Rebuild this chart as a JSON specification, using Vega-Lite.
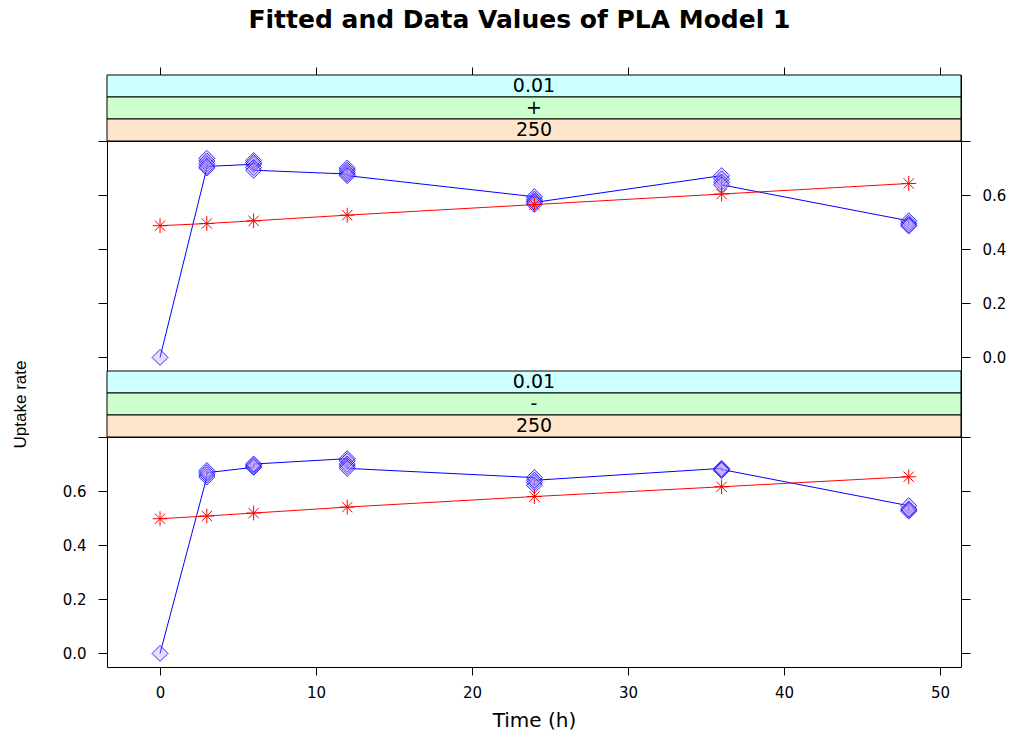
{
  "$schema": "https://vega.github.io/schema/vega-lite/v6.json",
  "padding": {"left": 10, "top": 8, "right": 5, "bottom": 5},
  "title": {
    "text": "Fitted and Data Values of PLA Model 1",
    "font": "DejaVu Sans",
    "fontSize": 25,
    "fontWeight": "bold",
    "color": "black",
    "anchor": "middle",
    "dx": 11,
    "offset": 33
  },
  "datasets": {
    "strips": [
      {"panel": "+", "factor": "conc", "label": "0.01"},
      {"panel": "+", "factor": "sign", "label": "+"},
      {"panel": "+", "factor": "dose", "label": "250"},
      {"panel": "-", "factor": "conc", "label": "0.01"},
      {"panel": "-", "factor": "sign", "label": "-"},
      {"panel": "-", "factor": "dose", "label": "250"}
    ],
    "uptake": [
      {"panel": "+", "kind": "obs", "seq": 1, "time": 0, "uptake": 0.0},
      {"panel": "+", "kind": "obs", "seq": 2, "time": 3, "uptake": 0.700},
      {"panel": "+", "kind": "obs", "seq": 3, "time": 3, "uptake": 0.736},
      {"panel": "+", "kind": "obs", "seq": 4, "time": 3, "uptake": 0.726},
      {"panel": "+", "kind": "obs", "seq": 5, "time": 3, "uptake": 0.716},
      {"panel": "+", "kind": "obs", "seq": 6, "time": 3, "uptake": 0.706},
      {"panel": "+", "kind": "obs", "seq": 7, "time": 6, "uptake": 0.714},
      {"panel": "+", "kind": "obs", "seq": 8, "time": 6, "uptake": 0.728},
      {"panel": "+", "kind": "obs", "seq": 9, "time": 6, "uptake": 0.720},
      {"panel": "+", "kind": "obs", "seq": 10, "time": 6, "uptake": 0.702},
      {"panel": "+", "kind": "obs", "seq": 11, "time": 6, "uptake": 0.692},
      {"panel": "+", "kind": "obs", "seq": 12, "time": 12, "uptake": 0.678},
      {"panel": "+", "kind": "obs", "seq": 13, "time": 12, "uptake": 0.700},
      {"panel": "+", "kind": "obs", "seq": 14, "time": 12, "uptake": 0.692},
      {"panel": "+", "kind": "obs", "seq": 15, "time": 12, "uptake": 0.684},
      {"panel": "+", "kind": "obs", "seq": 16, "time": 12, "uptake": 0.672},
      {"panel": "+", "kind": "obs", "seq": 17, "time": 24, "uptake": 0.594},
      {"panel": "+", "kind": "obs", "seq": 18, "time": 24, "uptake": 0.585},
      {"panel": "+", "kind": "obs", "seq": 19, "time": 24, "uptake": 0.578},
      {"panel": "+", "kind": "obs", "seq": 20, "time": 24, "uptake": 0.566},
      {"panel": "+", "kind": "obs", "seq": 21, "time": 24, "uptake": 0.573},
      {"panel": "+", "kind": "obs", "seq": 22, "time": 36, "uptake": 0.672},
      {"panel": "+", "kind": "obs", "seq": 23, "time": 36, "uptake": 0.660},
      {"panel": "+", "kind": "obs", "seq": 24, "time": 36, "uptake": 0.648},
      {"panel": "+", "kind": "obs", "seq": 25, "time": 36, "uptake": 0.638},
      {"panel": "+", "kind": "obs", "seq": 26, "time": 48, "uptake": 0.505},
      {"panel": "+", "kind": "obs", "seq": 27, "time": 48, "uptake": 0.496},
      {"panel": "+", "kind": "obs", "seq": 28, "time": 48, "uptake": 0.490},
      {"panel": "+", "kind": "obs", "seq": 29, "time": 48, "uptake": 0.486},
      {"panel": "+", "kind": "fit", "seq": 1, "time": 0, "uptake": 0.487},
      {"panel": "+", "kind": "fit", "seq": 2, "time": 3, "uptake": 0.495},
      {"panel": "+", "kind": "fit", "seq": 3, "time": 6, "uptake": 0.505},
      {"panel": "+", "kind": "fit", "seq": 4, "time": 12, "uptake": 0.526},
      {"panel": "+", "kind": "fit", "seq": 5, "time": 24, "uptake": 0.565},
      {"panel": "+", "kind": "fit", "seq": 6, "time": 36, "uptake": 0.604},
      {"panel": "+", "kind": "fit", "seq": 7, "time": 48, "uptake": 0.643},
      {"panel": "-", "kind": "obs", "seq": 1, "time": 0, "uptake": 0.0},
      {"panel": "-", "kind": "obs", "seq": 2, "time": 3, "uptake": 0.652},
      {"panel": "-", "kind": "obs", "seq": 3, "time": 3, "uptake": 0.676},
      {"panel": "-", "kind": "obs", "seq": 4, "time": 3, "uptake": 0.660},
      {"panel": "-", "kind": "obs", "seq": 5, "time": 3, "uptake": 0.668},
      {"panel": "-", "kind": "obs", "seq": 6, "time": 6, "uptake": 0.688},
      {"panel": "-", "kind": "obs", "seq": 7, "time": 6, "uptake": 0.696},
      {"panel": "-", "kind": "obs", "seq": 8, "time": 6, "uptake": 0.690},
      {"panel": "-", "kind": "obs", "seq": 9, "time": 6, "uptake": 0.700},
      {"panel": "-", "kind": "obs", "seq": 10, "time": 12, "uptake": 0.720},
      {"panel": "-", "kind": "obs", "seq": 11, "time": 12, "uptake": 0.712},
      {"panel": "-", "kind": "obs", "seq": 12, "time": 12, "uptake": 0.700},
      {"panel": "-", "kind": "obs", "seq": 13, "time": 12, "uptake": 0.692},
      {"panel": "-", "kind": "obs", "seq": 14, "time": 12, "uptake": 0.684},
      {"panel": "-", "kind": "obs", "seq": 15, "time": 24, "uptake": 0.650},
      {"panel": "-", "kind": "obs", "seq": 16, "time": 24, "uptake": 0.632},
      {"panel": "-", "kind": "obs", "seq": 17, "time": 24, "uptake": 0.622},
      {"panel": "-", "kind": "obs", "seq": 18, "time": 24, "uptake": 0.640},
      {"panel": "-", "kind": "obs", "seq": 19, "time": 36, "uptake": 0.684},
      {"panel": "-", "kind": "obs", "seq": 20, "time": 36, "uptake": 0.676},
      {"panel": "-", "kind": "obs", "seq": 21, "time": 36, "uptake": 0.680},
      {"panel": "-", "kind": "obs", "seq": 22, "time": 48, "uptake": 0.546},
      {"panel": "-", "kind": "obs", "seq": 23, "time": 48, "uptake": 0.530},
      {"panel": "-", "kind": "obs", "seq": 24, "time": 48, "uptake": 0.526},
      {"panel": "-", "kind": "obs", "seq": 25, "time": 48, "uptake": 0.534},
      {"panel": "-", "kind": "fit", "seq": 1, "time": 0, "uptake": 0.498},
      {"panel": "-", "kind": "fit", "seq": 2, "time": 3, "uptake": 0.508},
      {"panel": "-", "kind": "fit", "seq": 3, "time": 6, "uptake": 0.519},
      {"panel": "-", "kind": "fit", "seq": 4, "time": 12, "uptake": 0.541},
      {"panel": "-", "kind": "fit", "seq": 5, "time": 24, "uptake": 0.580},
      {"panel": "-", "kind": "fit", "seq": 6, "time": 36, "uptake": 0.616},
      {"panel": "-", "kind": "fit", "seq": 7, "time": 48, "uptake": 0.653}
    ]
  },
  "spacing": 0,
  "bounds": "flush",
  "resolve": {"scale": {"x": "independent", "y": "independent", "color": "independent"}},
  "vconcat": [
    {
      "width": 854,
      "height": 66,
      "data": {"name": "strips"},
      "transform": [{"filter": "datum.panel === '+'"}],
      "encoding": {
        "y": {"field": "factor", "type": "nominal", "sort": ["conc", "sign", "dose"], "axis": null,
              "scale": {"paddingInner": 0, "paddingOuter": 0}}
      },
      "layer": [
        {
          "mark": {"type": "rect", "stroke": "black", "strokeWidth": 1},
          "encoding": {
            "x": {"datum": -3.4, "type": "quantitative",
                  "scale": {"domain": [-3.4, 51.35], "nice": false, "zero": false},
                  "axis": {"orient": "top", "values": [0, 10, 20, 30, 40, 50], "labels": false,
                           "ticks": true, "tickSize": 8, "domain": false, "grid": false, "title": null}},
            "x2": {"datum": 51.35},
            "color": {"field": "factor", "type": "nominal",
                      "scale": {"domain": ["conc", "sign", "dose"], "range": ["#CCFFFF", "#CCFFCC", "#FFE5CC"]},
                      "legend": null}
          }
        },
        {
          "mark": {"type": "text", "font": "DejaVu Sans", "fontSize": 19, "color": "black", "baseline": "middle"},
          "encoding": {
            "x": {"datum": 23.975, "type": "quantitative"},
            "text": {"field": "label"}
          }
        }
      ]
    },
    {
      "width": 854,
      "height": 230,
      "data": {"name": "uptake"},
      "transform": [{"filter": "datum.panel === '+'"}],
      "encoding": {
        "x": {"field": "time", "type": "quantitative",
              "scale": {"domain": [-3.4, 51.35], "nice": false, "zero": false}, "axis": null}
      },
      "layer": [
        {
          "transform": [{"filter": "datum.kind === 'obs'"}],
          "mark": {"type": "line", "color": "#0000FF", "strokeWidth": 1},
          "encoding": {
            "y": {"field": "uptake", "type": "quantitative",
                  "scale": {"domain": [-0.05, 0.8], "nice": false, "zero": false},
                  "axis": {"orient": "left", "values": [0, 0.2, 0.4, 0.6, 0.8], "labels": false,
                           "tickSize": 9, "domain": false, "grid": false, "title": null}},
            "order": {"field": "seq", "type": "quantitative"}
          }
        },
        {
          "transform": [{"filter": "datum.kind === 'obs'"}],
          "mark": {"type": "point", "shape": "diamond", "size": 256, "filled": true,
                   "fill": "#B38CFF", "fillOpacity": 0.3, "stroke": "#0000FF", "strokeOpacity": 0.8, "strokeWidth": 1},
          "encoding": {
            "y": {"field": "uptake", "type": "quantitative", "axis": null}
          }
        },
        {
          "transform": [{"filter": "datum.kind === 'fit'"}],
          "mark": {"type": "line", "color": "#FF0000", "strokeWidth": 1},
          "encoding": {
            "y": {"field": "uptake", "type": "quantitative",
                  "axis": {"orient": "right", "values": [0, 0.2, 0.4, 0.6, 0.8],
                           "labelExpr": "datum.value > 0.7 ? '' : format(datum.value, '.1f')",
                           "tickSize": 9, "labelPadding": 12, "domain": false, "grid": false, "title": null}}
          }
        },
        {
          "transform": [{"filter": "datum.kind === 'fit'"}],
          "mark": {"type": "point", "shape": "M-1,0L1,0M0,-1L0,1M-0.7,-0.7L0.7,0.7M-0.7,0.7L0.7,-0.7",
                   "size": 220, "filled": false, "stroke": "#FF0000", "strokeWidth": 1, "opacity": 1},
          "encoding": {
            "y": {"field": "uptake", "type": "quantitative", "axis": null}
          }
        }
      ],
      "resolve": {"axis": {"y": "independent"}}
    },
    {
      "width": 854,
      "height": 66,
      "data": {"name": "strips"},
      "transform": [{"filter": "datum.panel === '-'"}],
      "encoding": {
        "y": {"field": "factor", "type": "nominal", "sort": ["conc", "sign", "dose"], "axis": null,
              "scale": {"paddingInner": 0, "paddingOuter": 0}}
      },
      "layer": [
        {
          "mark": {"type": "rect", "stroke": "black", "strokeWidth": 1},
          "encoding": {
            "x": {"datum": -3.4, "type": "quantitative",
                  "scale": {"domain": [-3.4, 51.35], "nice": false, "zero": false}, "axis": null},
            "x2": {"datum": 51.35},
            "color": {"field": "factor", "type": "nominal",
                      "scale": {"domain": ["conc", "sign", "dose"], "range": ["#CCFFFF", "#CCFFCC", "#FFE5CC"]},
                      "legend": null}
          }
        },
        {
          "mark": {"type": "text", "font": "DejaVu Sans", "fontSize": 19, "color": "black", "baseline": "middle"},
          "encoding": {
            "x": {"datum": 23.975, "type": "quantitative"},
            "text": {"field": "label"}
          }
        }
      ]
    },
    {
      "width": 854,
      "height": 230,
      "data": {"name": "uptake"},
      "transform": [{"filter": "datum.panel === '-'"}],
      "encoding": {
        "x": {"field": "time", "type": "quantitative",
              "scale": {"domain": [-3.4, 51.35], "nice": false, "zero": false},
              "axis": {"orient": "bottom", "values": [0, 10, 20, 30, 40, 50], "tickSize": 8,
                       "labelPadding": 10, "domain": false, "grid": false,
                       "title": "Time (h)", "titleFont": "DejaVu Sans", "titleFontSize": 20,
                       "titleFontWeight": "normal", "titleColor": "black", "titlePadding": 10}}
      },
      "layer": [
        {
          "transform": [{"filter": "datum.kind === 'obs'"}],
          "mark": {"type": "line", "color": "#0000FF", "strokeWidth": 1},
          "encoding": {
            "y": {"field": "uptake", "type": "quantitative",
                  "scale": {"domain": [-0.05, 0.8], "nice": false, "zero": false},
                  "axis": {"orient": "left", "values": [0, 0.2, 0.4, 0.6, 0.8],
                           "labelExpr": "datum.value > 0.7 ? '' : format(datum.value, '.1f')",
                           "tickSize": 9, "labelPadding": 12, "domain": false, "grid": false,
                           "title": "Uptake rate", "titleFont": "Liberation Sans", "titleFontSize": 17,
                           "titleFontWeight": "normal", "titleColor": "black", "titleAngle": 270,
                           "titleAlign": "center", "titleBaseline": "middle", "titleX": -87, "titleY": -33}},
            "order": {"field": "seq", "type": "quantitative"}
          }
        },
        {
          "transform": [{"filter": "datum.kind === 'obs'"}],
          "mark": {"type": "point", "shape": "diamond", "size": 256, "filled": true,
                   "fill": "#B38CFF", "fillOpacity": 0.3, "stroke": "#0000FF", "strokeOpacity": 0.8, "strokeWidth": 1},
          "encoding": {
            "y": {"field": "uptake", "type": "quantitative", "axis": null}
          }
        },
        {
          "transform": [{"filter": "datum.kind === 'fit'"}],
          "mark": {"type": "line", "color": "#FF0000", "strokeWidth": 1},
          "encoding": {
            "y": {"field": "uptake", "type": "quantitative",
                  "axis": {"orient": "right", "values": [0, 0.2, 0.4, 0.6, 0.8], "labels": false,
                           "tickSize": 9, "domain": false, "grid": false, "title": null}}
          }
        },
        {
          "transform": [{"filter": "datum.kind === 'fit'"}],
          "mark": {"type": "point", "shape": "M-1,0L1,0M0,-1L0,1M-0.7,-0.7L0.7,0.7M-0.7,0.7L0.7,-0.7",
                   "size": 220, "filled": false, "stroke": "#FF0000", "strokeWidth": 1, "opacity": 1},
          "encoding": {
            "y": {"field": "uptake", "type": "quantitative", "axis": null}
          }
        }
      ],
      "resolve": {"axis": {"y": "independent"}}
    }
  ],
  "config": {
    "view": {"stroke": "black", "strokeWidth": 1},
    "font": "DejaVu Sans",
    "axis": {"labelFont": "DejaVu Sans", "labelFontSize": 15, "labelColor": "black",
             "tickColor": "black", "tickWidth": 1}
  }
}
